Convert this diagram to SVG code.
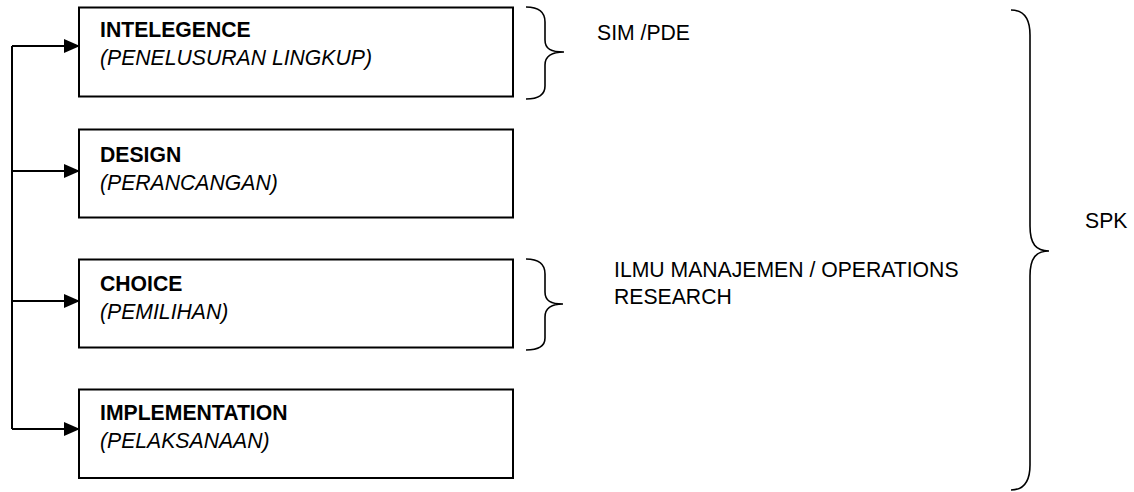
<svg xmlns="http://www.w3.org/2000/svg" width="1134" height="492" viewBox="0 0 1134 492">
  <defs>
    <marker id="arrow" markerWidth="16" markerHeight="14" refX="16" refY="7" orient="auto" markerUnits="userSpaceOnUse">
      <path d="M0,0 L16,7 L0,14 Z" fill="#000"/>
    </marker>
    <style>
      .box { fill: #fff; stroke: #000; stroke-width: 2; }
      .title { font-family: "Liberation Sans", Arial, sans-serif; font-size: 21.2px; font-weight: bold; fill: #000; }
      .sub { font-family: "Liberation Sans", Arial, sans-serif; font-size: 21.2px; font-style: italic; fill: #000; }
      .label { font-family: "Liberation Sans", Arial, sans-serif; font-size: 21.2px; fill: #000; }
      .line { fill: none; stroke: #000; stroke-width: 2; }
      .brace { fill: none; stroke: #000; stroke-width: 1.6; }
    </style>
  </defs>
  <rect width="1134" height="492" fill="#fff"/>

  <!-- connectors: feedback bus with arrows into each phase -->
  <g id="connectors">
    <path class="line" d="M12,46 L12,429"/>
    <path class="line" d="M12,46 L80,46" marker-end="url(#arrow)"/>
    <path class="line" d="M12,171 L80,171" marker-end="url(#arrow)"/>
    <path class="line" d="M12,301 L80,301" marker-end="url(#arrow)"/>
    <path class="line" d="M12,429 L80,429" marker-end="url(#arrow)"/>
  </g>

  <g id="intelegence">
    <rect class="box" x="79" y="7.5" width="434" height="89"/>
    <text class="title" x="100" y="37">INTELEGENCE</text>
    <text class="sub" x="100" y="65">(PENELUSURAN LINGKUP)</text>
  </g>

  <g id="design">
    <rect class="box" x="79" y="129.5" width="434" height="88"/>
    <text class="title" x="100" y="162">DESIGN</text>
    <text class="sub" x="100" y="190">(PERANCANGAN)</text>
  </g>

  <g id="choice">
    <rect class="box" x="79" y="259.5" width="434" height="88"/>
    <text class="title" x="100" y="291">CHOICE</text>
    <text class="sub" x="100" y="319">(PEMILIHAN)</text>
  </g>

  <g id="implementation">
    <rect class="box" x="79" y="389.5" width="434" height="88.5"/>
    <text class="title" x="100" y="420">IMPLEMENTATION</text>
    <text class="sub" x="100" y="448">(PELAKSANAAN)</text>
  </g>

  <!-- brace grouping the intelligence phase -->
  <g id="sim-pde">
    <path class="brace" d="M526,7 C538,7 545,11 545,22 L545,40 C545,49 551,52 564,52 C551,52 545,56 545,65 L545,86 C545,95 538,99 526,99"/>
    <text class="label" x="597" y="40">SIM /PDE</text>
  </g>

  <!-- brace grouping the choice phase -->
  <g id="management-science">
    <path class="brace" d="M526,259 C538,259 545,263 545,274 L545,292 C545,301 551,304 563,304 C551,304 545,308 545,317 L545,338 C545,347 538,350 526,350"/>
    <text class="label" x="614" y="277">ILMU MANAJEMEN / OPERATIONS</text>
    <text class="label" x="614" y="304">RESEARCH</text>
  </g>

  <!-- brace spanning all four phases -->
  <g id="spk">
    <path class="brace" d="M1011,10 C1024,10 1030,18 1030,35 L1030,226 C1030,244 1036,251 1049,251 C1036,251 1030,258 1030,276 L1030,465 C1030,482 1024,490 1011,490"/>
    <text class="label" x="1085" y="228">SPK</text>
  </g>
</svg>
